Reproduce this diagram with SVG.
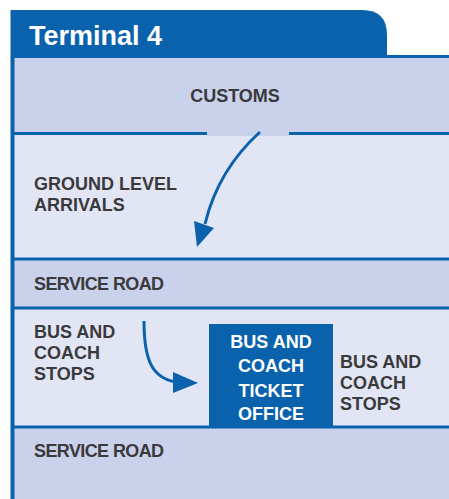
<svg xmlns="http://www.w3.org/2000/svg" width="449" height="499" viewBox="0 0 449 499">
<defs>
<style>
.lbl{font-family:"Liberation Sans",Arial,sans-serif;font-weight:700;font-size:18px;fill:#3a3a3c}
.wht{font-family:"Liberation Sans",Arial,sans-serif;font-weight:700;font-size:18px;fill:#ffffff}
.band1{fill:#c9d1eb}
.band2{fill:#e1e5f4}
.sep{stroke:#0a62ad;stroke-width:3;fill:none}
.arr{stroke:#0a62ad;stroke-width:3;fill:none}
</style>
</defs>
<rect width="449" height="499" fill="#ffffff"/>
<g id="frame">
<path d="M11,56 L11,10 L362,10 Q387,10 387,35 L387,56 Z" fill="#0a62ad"/>
<text x="29" y="45" style="font-family:'Liberation Sans',Arial,sans-serif;font-weight:700;font-size:27px;fill:#ffffff">Terminal 4</text>
</g>
<g id="customs">
<rect class="band1" x="13" y="57" width="436" height="77"/>
<text class="lbl" x="235" y="102" text-anchor="middle">CUSTOMS</text>
</g>
<g id="ground-level-arrivals">
<rect class="band2" x="13" y="134" width="436" height="125"/>
<rect class="band1" x="207" y="132" width="82" height="4"/>
<text class="lbl" x="34" y="190">GROUND LEVEL</text>
<text class="lbl" x="34" y="211">ARRIVALS</text>
</g>
<g id="service-road-1">
<rect class="band1" x="13" y="259" width="436" height="49"/>
<text class="lbl" x="34" y="290" style="letter-spacing:-0.6px">SERVICE ROAD</text>
</g>
<g id="bus-coach-stops">
<rect class="band2" x="13" y="308" width="436" height="119"/>
<text class="lbl" x="34" y="338">BUS AND</text>
<text class="lbl" x="34" y="359">COACH</text>
<text class="lbl" x="34" y="380">STOPS</text>
<text class="lbl" x="340" y="368">BUS AND</text>
<text class="lbl" x="340" y="389">COACH</text>
<text class="lbl" x="340" y="410">STOPS</text>
</g>
<g id="ticket-office">
<rect x="209" y="324" width="124" height="103" fill="#0a62ad"/>
<text class="wht" x="271" y="348" text-anchor="middle">BUS AND</text>
<text class="wht" x="271" y="372" text-anchor="middle">COACH</text>
<text class="wht" x="271" y="397" text-anchor="middle">TICKET</text>
<text class="wht" x="271" y="420" text-anchor="middle">OFFICE</text>
</g>
<g id="service-road-2">
<rect class="band1" x="13" y="427" width="436" height="72"/>
<text class="lbl" x="34" y="457" style="letter-spacing:-0.6px">SERVICE ROAD</text>
</g>
<g id="lines">
<line class="sep" x1="13" y1="56.5" x2="449" y2="56.5"/>
<line class="sep" x1="13" y1="133.5" x2="207" y2="133.5"/>
<line class="sep" x1="289" y1="133.5" x2="449" y2="133.5"/>
<line class="sep" x1="13" y1="259" x2="449" y2="259"/>
<line class="sep" x1="13" y1="308" x2="449" y2="308"/>
<line class="sep" x1="13" y1="427" x2="449" y2="427"/>
<line x1="12.5" y1="10" x2="12.5" y2="499" stroke="#0a62ad" stroke-width="4"/>
</g>
<g id="connectors">
<path class="arr" d="M260,132 Q218,170 205,224"/>
<path d="M194,221 L214,228 L197,247 Z" fill="#0a62ad"/>
<path class="arr" d="M144,321 C144,360 152,378 176,382"/>
<path d="M173,372 L198,383 L173,393 Z" fill="#0a62ad"/>
</g>
</svg>
